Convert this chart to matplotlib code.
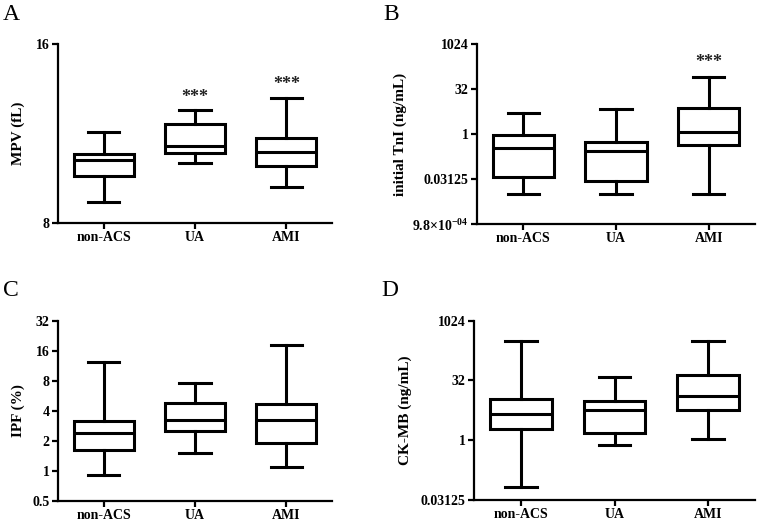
import numpy as np
import matplotlib
matplotlib.use('Agg')
import matplotlib.pyplot as plt
from matplotlib.ticker import FixedLocator, FixedFormatter, NullLocator

plt.rcParams['font.family'] = ['Liberation Serif', 'DejaVu Serif']
plt.rcParams['font.weight'] = 'bold'
plt.rcParams['mathtext.fontset'] = 'custom'
plt.rcParams['mathtext.rm'] = 'Liberation Serif:bold'
plt.rcParams['mathtext.bf'] = 'Liberation Serif:bold'

groups = ['non-ACS', 'UA', 'AMI']

# box stats: [whislo, q1, median, q3, whishi]
mpv = [[8.95, 10.11, 10.82, 11.07, 12.07],
       [10.67, 11.15, 11.45, 12.43, 13.05],
       [9.6, 10.55, 11.18, 11.82, 13.59]]
tni = [[2 ** -6.63, 2 ** -4.78, 2 ** -1.6, 2 ** -0.15, 2 ** 2.33],
       [2 ** -6.63, 2 ** -5.19, 2 ** -1.89, 2 ** -0.93, 2 ** 2.81],
       [2 ** -6.63, 2 ** -1.26, 2 ** 0.22, 2 ** 2.89, 2 ** 6.33]]
ipf = [[0.91, 1.6, 2.41, 3.18, 12.4],
       [1.5, 2.53, 3.25, 4.78, 7.7],
       [1.1, 1.9, 3.22, 4.7, 18.4]]
ckmb = [[2 ** -3.89, 2 ** 0.95, 2 ** 2.2, 2 ** 3.45, 2 ** 8.33],
        [2 ** -0.44, 2 ** 0.61, 2 ** 2.56, 2 ** 3.25, 2 ** 5.28],
        [2 ** 0.14, 2 ** 2.56, 2 ** 3.67, 2 ** 5.42, 2 ** 8.33]]

mpv_ticks = [8, 16]
mpv_labels = ['8', '16']
tni_ticks = [2 ** -10, 2 ** -5, 1, 32, 1024]
tni_labels = ['9.8\u00d710$^{-04}$', '0.03125', '1', '32', '1024']
ipf_ticks = [0.5, 1, 2, 4, 8, 16, 32]
ipf_labels = ['0.5', '1', '2', '4', '8', '16', '32']
ckmb_ticks = [0.03125, 1, 32, 1024]
ckmb_labels = ['0.03125', '1', '32', '1024']

# significance marks: (group index, y position)
mpv_stars = [(1, 13.63), (2, 14.2)]
tni_stars = [(2, 2 ** 7.92)]

W, H = 757, 520
fig = plt.figure(figsize=(W / 100, H / 100), dpi=100)


def make_ax(l, r, t, b):
    return fig.add_axes([l / W, 1 - b / H, (r - l) / W, (b - t) / H])


def draw(ax, stats, ticks, labels, ylabel, log, labx, stars=()):
    st = [dict(whislo=s[0], q1=s[1], med=s[2], q3=s[3], whishi=s[4], fliers=[])
          for s in stats]
    lw = 2.2
    ax.bxp(st, positions=[1, 2, 3], widths=0.66, capwidths=0.34,
           showfliers=False, patch_artist=True,
           boxprops=dict(facecolor='white', edgecolor='black', linewidth=lw),
           medianprops=dict(color='black', linewidth=lw),
           whiskerprops=dict(color='black', linewidth=lw),
           capprops=dict(color='black', linewidth=lw))
    if log:
        ax.set_yscale('log', base=2)
    ax.set_ylim(ticks[0], ticks[-1])
    ax.set_xlim(0.5, 3.5)
    ax.yaxis.set_major_locator(FixedLocator(ticks))
    ax.yaxis.set_major_formatter(FixedFormatter(labels))
    ax.yaxis.set_minor_locator(NullLocator())
    ax.set_xticks([1, 2, 3])
    ax.set_xticklabels(groups)
    for sp in ['top', 'right']:
        ax.spines[sp].set_visible(False)
    for sp in ['left', 'bottom']:
        ax.spines[sp].set_linewidth(1.6)
    ax.tick_params(width=1.6, length=4.5, labelsize=10, pad=1.5)
    for lab in ax.get_xticklabels() + ax.get_yticklabels():
        lab.set_fontweight('bold')
    ax.set_ylabel(ylabel, fontsize=11, fontweight='bold')
    ax.yaxis.set_label_coords(labx, 0.5)
    for i, y in stars:
        ax.text(i + 1, y, '***', ha='center', va='center', fontsize=13,
                fontweight='bold', color='#222222')


axA = make_ax(58, 332, 44, 223)
draw(axA, mpv, mpv_ticks, mpv_labels, 'MPV (fL)', False, -0.12, mpv_stars)
axB = make_ax(477, 755, 44, 224)
draw(axB, tni, tni_ticks, tni_labels, 'initial TnI (ng/mL)', True, -0.252, tni_stars)
axC = make_ax(58, 332, 321, 500.7)
draw(axC, ipf, ipf_ticks, ipf_labels, 'IPF (%)', True, -0.12)
axD = make_ax(474, 755, 320.7, 500)
draw(axD, ckmb, ckmb_ticks, ckmb_labels, 'CK-MB (ng/mL)', True, -0.222)

for letter, x, y in [('A', 3, 20), ('B', 383, 20), ('C', 3, 296), ('D', 381, 296)]:
    fig.text(x / W, 1 - y / H, letter, fontsize=17, fontweight='normal',
             ha='left', va='baseline')

fig.savefig('out.png', dpi=100)
